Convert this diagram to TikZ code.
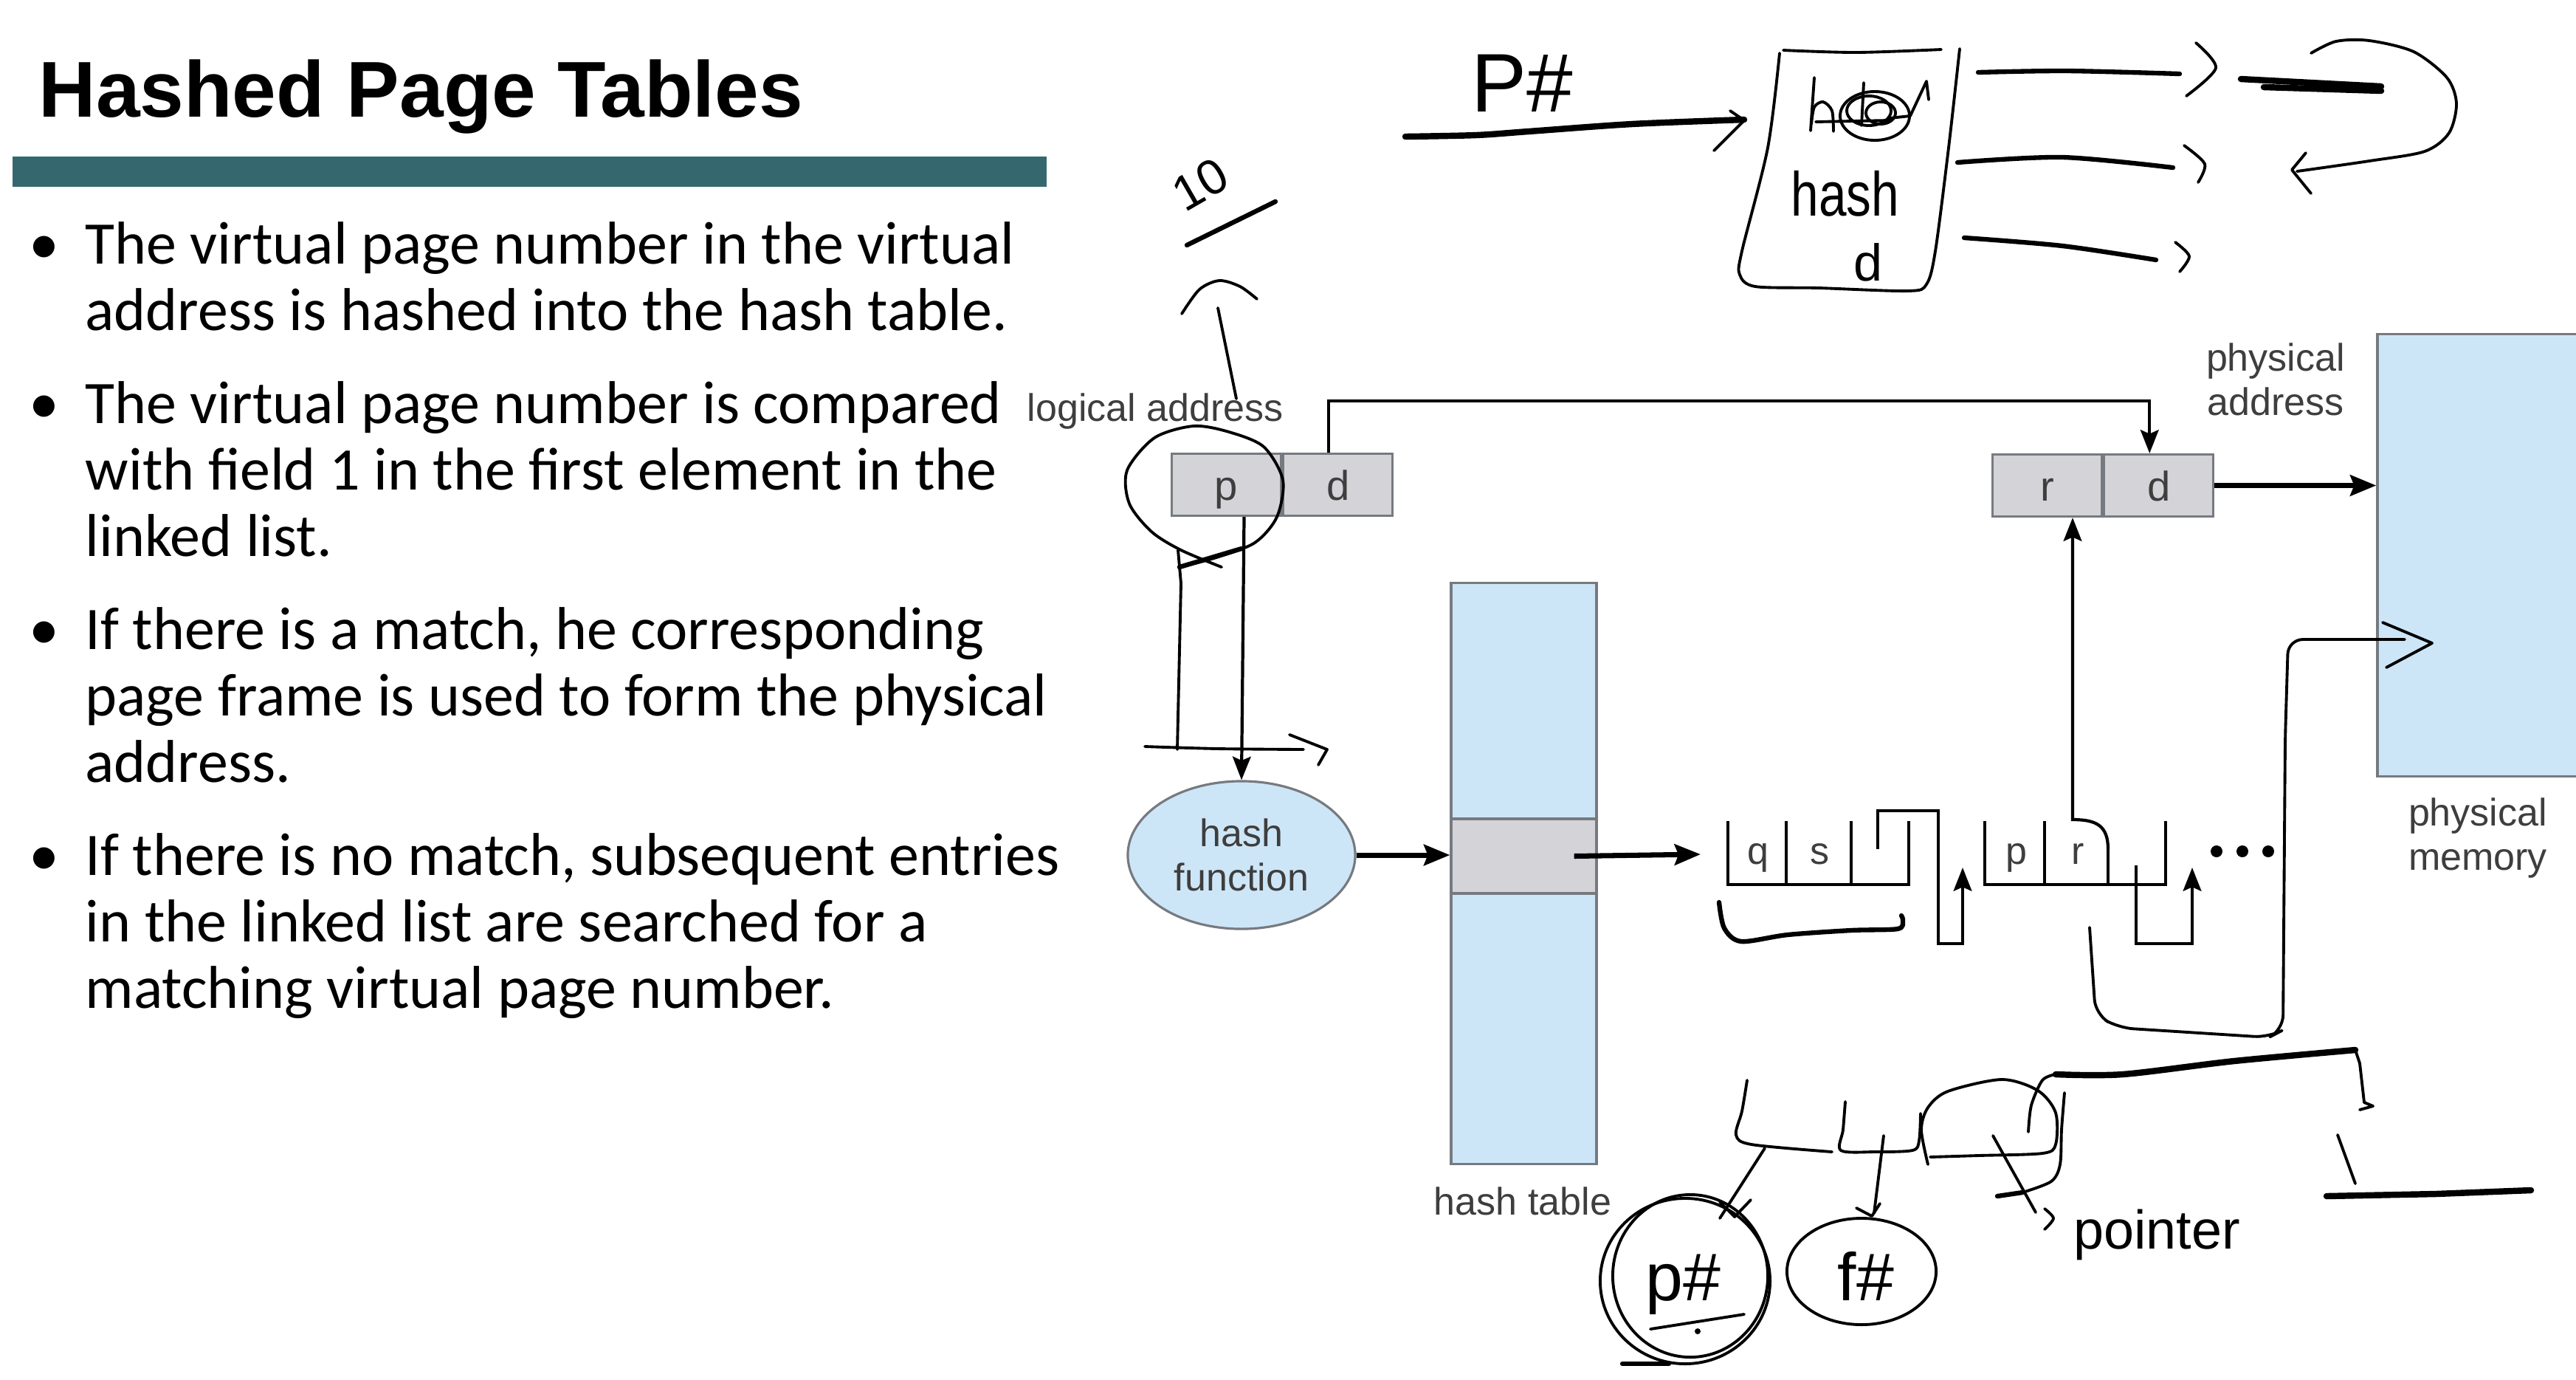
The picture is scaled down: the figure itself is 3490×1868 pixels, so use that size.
\documentclass[tikz,border=0pt]{standalone}
\usepackage{tikz}
\usepackage{xcolor}
\usepackage{fontspec}
\usetikzlibrary{positioning,shapes.geometric,arrows.meta}
\setmainfont{Liberation Sans}
\newfontfamily\slidefont{Carlito}
\definecolor{barteal}{RGB}{52,104,110}
\definecolor{cellgray}{RGB}{212,212,216}
\definecolor{memblue}{RGB}{205,230,247}
\definecolor{edgegray}{RGB}{118,122,128}
\definecolor{labelgray}{RGB}{62,62,62}
\newcommand{\narrowed}[1]{\scalebox{0.8}[1]{#1}}

\begin{document}
\begin{tikzpicture}[x=0.01cm,y=-0.01cm]
\tikzstyle{every node}+=[inner sep=0pt]
\tikzstyle{body}=[anchor=base west, font=\slidefont\fontsize{23.3}{25.6}\selectfont]
\tikzstyle{dot}=[anchor=base, font=\slidefont\fontsize{23.3}{25.6}\selectfont]
\tikzstyle{lbl}=[text=labelgray, font=\fontsize{14.8}{17}\selectfont]
\tikzstyle{field}=[text=labelgray, font=\fontsize{16}{18}\selectfont, draw=edgegray, line width=0.9pt, fill=cellgray, minimum width=1.48cm, minimum height=0.84cm, text height=0.42cm, text depth=0cm]
\tikzstyle{memcol}=[draw=edgegray, line width=0.9pt, fill=memblue]
\tikzstyle{link}=[line width=1.2pt]
\tikzstyle{arr}=[link, -{Stealth[length=9pt,width=7pt,inset=1.5pt]}]
\tikzstyle{bigarr}=[-{Stealth[length=10pt,width=8pt,inset=1.5pt]}, line width=2pt]
\tikzstyle{cell}=[line width=1.3pt]
\tikzstyle{ink}=[line width=1.1pt, line cap=round, line join=round]
\tikzstyle{inkmid}=[ink, line width=1.8pt]
\tikzstyle{inkheavy}=[ink, line width=2.4pt]
\tikzstyle{inktext}=[font=\fontsize{26}{30}\selectfont]
\path[use as bounding box] (0,0) rectangle (3490,1868);
\clip (0,0) rectangle (3490,1868);

% title and bar
\node[anchor=base west, font=\fontsize{30.5}{36}\selectfont\bfseries] (title) at (52,158) {Hashed Page Tables};
\fill[barteal] (17,212) rectangle (1418,253);

% bullets
\node[dot] (b1) at (60,357) {•};
\node[body] (l1) at (115,357) {The virtual page number in the virtual};
\node[body] (l2) at (115,447) {address is hashed into the hash table.};
\node[dot] (b2) at (60,573) {•};
\node[body] (l3) at (115,573) {The virtual page number is compared};
\node[body] (l4) at (115,663) {with field 1 in the first element in the};
\node[body] (l5) at (115,753) {linked list.};
\node[dot] (b3) at (60,879) {•};
\node[body] (l6) at (115,879) {If there is a match, he corresponding};
\node[body] (l7) at (115,969) {page frame is used to form the physical};
\node[body] (l8) at (115,1059) {address.};
\node[dot] (b4) at (60,1185) {•};
\node[body] (l9) at (115,1185) {If there is no match, subsequent entries};
\node[body] (l10) at (115,1275) {in the linked list are searched for a};
\node[body] (l11) at (115,1365) {matching virtual page number.};

% figure: addresses
\node[field] (pg) at (1661.5,656.5) {p};
\node[field, right=0pt of pg] (off) {d};
\node[field] (fr) at (2773.5,657.5) {r};
\node[field, right=0pt of fr] (off2) {d};
\node[lbl, anchor=base west] (la) at (1391,570) {logical address};
\node[lbl, align=center] (pa) at (3083,514) {physical\\address};

% hash function and table
\node[memcol, lbl, ellipse, minimum width=3.08cm, minimum height=2.0cm, align=center] (hf) at (1682,1158) {hash\\function};
\node[memcol, minimum width=1.97cm, minimum height=7.86cm] (htab) at (2064.5,1183) {};
\node[draw=edgegray, line width=0.9pt, fill=cellgray, minimum width=1.97cm, minimum height=1.01cm] (slot) at (2064.5,1159.5) {};
\node[lbl] (htl) at (2063,1627) {hash table};

% physical memory
\node[memcol, minimum width=3.2cm, minimum height=5.98cm] (pmem) at (3381,752) {};
\node[lbl, align=center] (pml) at (3357,1135) {physical\\memory};

% connectors
\draw[arr] ([xshift=0.24cm]pg.south) -- (hf.north);
\draw[arr] ([xshift=-0.125cm]off.north) -- ++(0,-70) -| ([xshift=-0.125cm]off2.north);
\draw[bigarr] (hf.east) -- (htab.west |- hf.east);
\coordinate (lst) at (2304,1157);
\draw[bigarr] ([xshift=0.68cm]slot.center) -- (lst);
\draw[bigarr] (off2.east) -- (off2.east -| pmem.west);

% linked list
\draw[cell] (2341,1112) -- (2341,1198) -- (2586,1198) -- (2586,1112);
\draw[cell] (2420,1112) -- (2420,1198);
\draw[cell] (2508,1112) -- (2508,1198);
\draw[cell, -{Stealth[length=9pt,width=7pt,inset=1.5pt]}] (2544,1150) -- (2544,1098) -- (2626,1098) -- (2626,1278) -- (2659,1278) -- (2659,1175);
\node[lbl, anchor=base] (q) at (2382,1170) {q};
\node[lbl, anchor=base] (s) at (2465,1170) {s};
\draw[cell] (2689,1112) -- (2689,1198) -- (2934,1198) -- (2934,1112);
\draw[cell] (2770,1112) -- (2770,1198);
\draw[cell] (2856,1150) -- (2856,1198);
\draw[cell, -{Stealth[length=9pt,width=7pt,inset=1.5pt]}] (2894,1172) -- (2894,1278) -- (2970,1278) -- (2970,1175);
\node[lbl, anchor=base] (lp) at (2732,1170) {p};
\node[lbl, anchor=base] (lr) at (2815,1170) {r};
\fill (3003,1153) circle (0.08cm);
\fill (3038,1153) circle (0.08cm);
\fill (3073,1153) circle (0.08cm);
\coordinate (rlink) at (2808,1110);
\draw[arr] (2856,1150) .. controls (2856,1118) and (2840,1110) .. (rlink) -- (rlink |- fr.south);

% handwriting: top
\draw[inkheavy] plot[smooth] coordinates {(1904,185) (2000,183) (2071,178) (2211,168) (2363,162)};
\draw[ink] (2344,150) -- (2363,163) -- (2322,204);
\node[inktext, font=\fontsize{32}{36}\selectfont] (pnum) at (2062,113) {P\#};
\draw[ink] plot[smooth] coordinates {(2416,68) (2515,71) (2630,67)};
\draw[ink] plot[smooth] coordinates {(2411,72) (2395,200) (2360,340) (2357,372) (2378,388) (2464,390) (2585,394) (2610,385) (2622,340) (2640,200) (2655,66)};
% scratched word
\draw[ink] (2458,105) -- (2453,177);
\draw[ink] plot[smooth] coordinates {(2454,168) (2458,145) (2470,138) (2482,150) (2484,178)};
\draw[ink] (2460,165) -- (2560,163);
\draw[ink] (2540,157) ellipse (0.47cm and 0.33cm);
\draw[ink] (2532,150) ellipse (0.3cm and 0.2cm);
\draw[ink] (2548,153) ellipse (0.2cm and 0.15cm);
\draw[ink] (2525,112) -- (2522,170);
\draw[ink] (2560,160) -- (2588,157) -- (2610,110) -- (2613,135);
\node[inktext, font=\fontsize{24}{28}\selectfont] (hw) at (2500,262) {\narrowed{hash}};
\node[inktext, font=\fontsize{20}{24}\selectfont] (hd) at (2531,355) {d};
\draw[inkmid] plot[smooth] coordinates {(2680,98) (2800,96) (2953,100)};
\draw[ink] plot[smooth] coordinates {(2975,58) (3002,92) (2962,130)};
\draw[inkmid] plot[smooth] coordinates {(2652,220) (2794,213) (2944,227)};
\draw[ink] plot[smooth] coordinates {(2959,197) (2987,222) (2978,247)};
\draw[inkmid] plot[smooth] coordinates {(2661,322) (2794,333) (2921,352)};
\draw[ink] plot[smooth] coordinates {(2947,328) (2966,347) (2953,368)};
\draw[inkheavy] (3036,107) -- (3226,117);
\draw[inkheavy] (3067,118) -- (3226,123);
\draw[ink] plot[smooth] coordinates {(3131,72) (3165,56) (3210,55) (3270,70) (3315,105) (3328,140) (3318,180) (3285,205) (3210,218) (3112,232)};
\draw[ink] (3124,207) -- (3105,230) -- (3131,262);

% handwriting: left of figure
\node[inktext, font=\fontsize{19}{22}\selectfont, rotate=30] (ten) at (1626,250) {10};
\draw[inkmid] (1728,273) -- (1608,332);
\draw[ink] plot[smooth] coordinates {(1601,425) (1625,392) (1652,380) (1680,388) (1703,405)};
\draw[ink] (1650,417) -- (1675,540);
\draw[ink] plot[smooth] coordinates {(1655,768) (1600,745) (1560,720) (1530,682) (1527,637) (1564,593) (1617,577) (1665,585) (1712,605) (1738,650) (1730,700) (1700,735) (1648,755) (1598,768)};
\draw[inkmid] (1598,768) -- (1682,743);
\draw[ink] (1596,745) -- (1600,790) -- (1595,1015);
\draw[ink] plot[smooth] coordinates {(1551,1011) (1650,1014) (1766,1015)};
\draw[ink] (1747,995) -- (1798,1015) -- (1786,1036);

% handwriting: around the list
\draw[inkmid] plot[smooth] coordinates {(2329,1222) (2336,1257) (2359,1275) (2422,1266) (2508,1260) (2571,1258) (2578,1247) (2576,1240)};
\draw[ink, rounded corners=0.2cm] (2831,1256) -- (2839,1374) -- (2870,1392) -- (3074,1405) -- (3093,1395) -- (3096,1000) -- (3100,866) -- (3258,866);
\draw[ink] (3228,843) -- (3295,871) -- (3233,904);

% handwriting: entry sketch at the bottom
\draw[ink] plot[smooth] coordinates {(2367,1463) (2360,1505) (2352,1537) (2373,1550) (2482,1560)};
\draw[ink] plot[smooth] coordinates {(2500,1492) (2497,1530) (2494,1558) (2540,1560) (2591,1558) (2600,1545) (2602,1508)};
\draw[ink] plot[smooth] coordinates {(2612,1577) (2603,1530) (2612,1500) (2639,1478) (2712,1462) (2761,1477) (2785,1507) (2785,1550) (2767,1562) (2680,1565) (2615,1567)};
\draw[ink] plot[smooth] coordinates {(2797,1480) (2793,1530) (2791,1577) (2779,1600) (2740,1615)};
\draw[inkmid] (2740,1615) -- (2706,1620);
\draw[ink] plot[smooth] coordinates {(2748,1533) (2752,1497) (2767,1463) (2785,1455)};
\draw[inkheavy] plot[smooth] coordinates {(2785,1455) (2876,1455) (3027,1437) (3191,1422)};
\draw[ink] (3191,1422) -- (3197,1440) -- (3203,1493) -- (3215,1498) -- (3197,1503);
\draw[ink] (3167,1537) -- (3191,1603);
\draw[inkheavy] (3152,1620) -- (3300,1617) -- (3429,1612);
\draw[ink] (2391,1555) -- (2330,1650);
\draw[ink] (2552,1538) -- (2539,1643);
\draw[ink] (2515,1636) -- (2536,1647) -- (2547,1630);
\draw[ink] (2700,1538) -- (2758,1642);
\draw[ink] plot[smooth] coordinates {(2770,1637) (2782,1650) (2770,1665)};
\draw[ink] (2283,1735) ellipse (1.15cm and 1.12cm);
\draw[ink] (2290,1728) ellipse (1.05cm and 1.1cm);
\draw[inkmid] (2198,1847) -- (2261,1847);
\draw[ink] (2330,1628) -- (2350,1648) -- (2372,1625);
\node[inktext] (pn) at (2280,1740) {p\#};
\draw[ink] (2236,1800) -- (2363,1780);
\fill (2300,1803) circle (0.04cm);
\draw[ink] (2522,1722) ellipse (1.01cm and 0.72cm);
\node[inktext] (fn) at (2528,1728) {f\#};
\node[inktext, font=\fontsize{21}{24}\selectfont] (ptr) at (2922,1672) {pointer};
\end{tikzpicture}
\end{document}
